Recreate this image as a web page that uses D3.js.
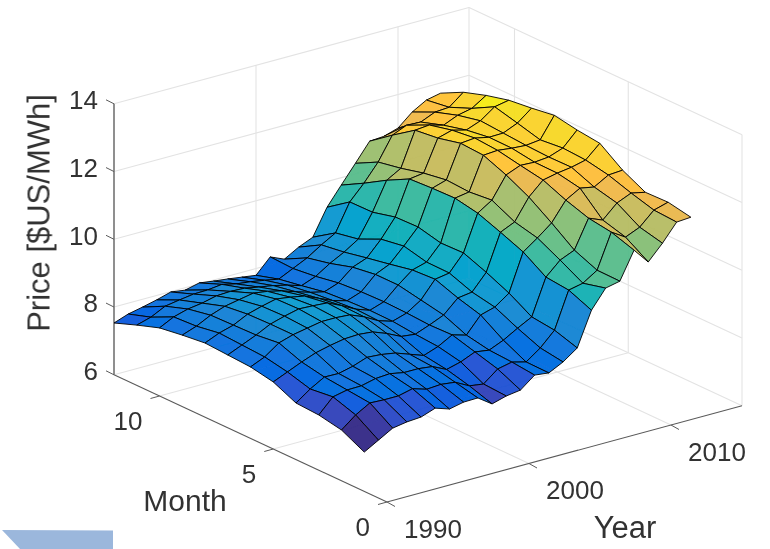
<!DOCTYPE html>
<html><head><meta charset="utf-8">
<script src="https://cdn.jsdelivr.net/npm/d3@7"></script>
<style>html,body{margin:0;padding:0;background:#fff}svg{display:block;font-family:"Liberation Sans",Arial,sans-serif}</style>
</head><body>
<svg id="c" width="770" height="549"></svg>
<script>
const months=[1,2,3,4,5,6,7,8,9,10,11,12];
const years=d3.range(1990,2014);
const monthTicks=[0,5,10];
const yearTicks=[1990,2000,2010];
const priceTicks=[6,8,10,12,14];
// price per year (rows) and month (columns 1..12)
const prices=[
[7.16,7.50,7.63,7.67,7.98,8.11,8.15,8.19,8.11,8.01,7.78,7.53],
[7.40,7.83,8.05,7.97,8.16,8.29,8.33,8.37,8.26,8.22,7.90,7.68],
[7.64,8.07,8.14,8.21,8.34,8.59,8.51,8.49,8.47,8.34,8.11,7.77],
[7.71,8.05,8.15,8.20,8.50,8.72,8.72,8.70,8.62,8.40,8.18,7.87],
[7.74,8.05,8.25,8.30,8.60,8.80,8.84,8.82,8.70,8.50,8.24,7.99],
[7.89,8.15,8.28,8.45,8.68,8.88,8.94,8.92,8.78,8.52,8.25,7.93],
[7.75,8.02,8.20,8.42,8.70,8.88,8.92,8.86,8.72,8.50,8.30,8.03],
[7.84,8.05,8.20,8.35,8.66,8.85,8.89,8.78,8.62,8.42,8.20,7.97],
[7.85,8.00,8.15,8.20,8.50,8.68,8.70,8.60,8.48,8.35,8.15,7.92],
[7.56,7.78,7.95,8.05,8.30,8.45,8.48,8.42,8.35,8.25,8.08,7.86],
[7.68,7.72,8.06,8.20,8.25,8.32,8.33,8.30,8.25,8.12,8.00,7.80],
[7.74,8.05,8.24,8.43,8.41,8.45,8.47,8.45,8.40,8.28,8.20,8.23],
[8.07,8.14,8.18,8.31,8.59,8.72,8.85,8.85,8.75,8.55,8.40,8.05],
[8.02,8.03,8.36,8.79,8.98,9.22,9.18,9.04,8.91,8.77,8.67,8.29],
[8.23,8.33,8.60,8.91,9.04,9.29,9.30,9.46,9.35,9.04,8.91,8.47],
[8.53,8.74,8.82,9.21,9.51,9.77,9.75,9.91,9.89,9.72,9.71,9.24],
[9.53,9.81,9.88,10.31,10.58,10.83,10.96,10.94,10.90,10.55,10.15,9.78],
[10.07,9.90,10.27,10.61,10.77,11.10,11.03,11.07,10.96,10.79,10.66,10.31],
[10.16,10.17,10.45,10.94,11.39,11.73,12.00,12.04,11.88,11.80,11.34,10.85],
[10.96,11.18,11.28,11.50,11.78,11.90,12.03,12.08,12.00,11.84,11.52,10.88],
[10.50,10.92,11.11,11.74,11.87,11.88,11.98,11.99,11.89,11.72,11.50,11.01],
[10.94,11.10,11.50,11.66,11.93,11.92,11.95,12.00,12.05,11.90,11.68,11.37],
[11.45,11.49,11.68,11.90,12.03,12.07,12.00,12.18,12.35,11.99,11.71,11.61],
[11.48,11.61,11.59,11.93,12.41,12.49,12.61,12.51,12.43,12.26,12.04,11.70]
];
const parula=[[.2081,.1663,.5292],[.2116,.1898,.5777],[.2123,.2138,.627],[.2081,.2386,.6771],[.1959,.2645,.7279],[.1707,.2919,.7792],[.1253,.3242,.8303],[.0591,.3598,.8683],[.0117,.3875,.882],[.006,.4086,.8828],[.0165,.4266,.8786],[.0329,.443,.872],[.0498,.4586,.8641],[.0629,.4737,.8554],[.0723,.4887,.8467],[.0779,.504,.8384],[.0793,.52,.8312],[.0749,.5375,.8263],[.0641,.557,.824],[.0488,.5772,.8228],[.0343,.5966,.8199],[.0265,.6137,.8135],[.0239,.6287,.8038],[.0231,.6418,.7913],[.0228,.6535,.7768],[.0267,.6642,.7607],[.0384,.6743,.7436],[.059,.6838,.7254],[.0843,.6928,.7062],[.1133,.7015,.6859],[.1453,.7098,.6646],[.1801,.7177,.6424],[.2178,.725,.6193],[.2586,.7317,.5954],[.3022,.7376,.5712],[.3482,.7424,.5473],[.3953,.7459,.5244],[.442,.7481,.5033],[.4871,.7491,.484],[.53,.7491,.4661],[.5709,.7485,.4494],[.6099,.7473,.4337],[.6473,.7456,.4188],[.6834,.7435,.4044],[.7184,.7411,.3905],[.7525,.7384,.3768],[.7858,.7356,.3633],[.8185,.7327,.3498],[.8507,.7299,.336],[.8824,.7274,.3217],[.9139,.7258,.3063],[.945,.7261,.2886],[.9739,.7314,.2666],[.9938,.7455,.2403],[.999,.7653,.2164],[.9955,.7861,.1967],[.988,.8066,.1794],[.9789,.8271,.1633],[.9697,.8481,.1475],[.9626,.8705,.1309],[.9589,.8949,.1132],[.9598,.9218,.0948],[.9661,.9514,.0755],[.9763,.9831,.0538]]
  .map(c=>d3.rgb(c[0]*255,c[1]*255,c[2]*255).formatHex());

const originX=387, originY=502;
const monthX=d3.scaleLinear([0,12],[0,-273]), monthY=d3.scaleLinear([0,12],[0,-127.2]);
const yearX=d3.scaleLinear([1990,2015],[0,355]), yearY=d3.scaleLinear([1990,2015],[0,-96.25]);
const priceY=d3.scaleLinear([6,14],[0,-271]);
const px=(m,y)=>originX+monthX(m)+yearX(y);
const py=(m,y,z)=>originY+monthY(m)+yearY(y)+priceY(z);
const color=d3.scaleQuantize().domain([7.16,12.55]).range(parula);

const svg=d3.select("#c");
const root=svg.append("g").attr("filter","url(#soft)");
svg.append("defs").append("filter").attr("id","soft").attr("x",0).attr("y",0).attr("width",1).attr("height",1)
  .append("feGaussianBlur").attr("stdDeviation",0.4);
const line=(g,a,b,stroke,w)=>g.append("line")
  .attr("x1",px(a[0],a[1])).attr("y1",py(a[0],a[1],a[2]))
  .attr("x2",px(b[0],b[1])).attr("y2",py(b[0],b[1],b[2]))
  .attr("stroke",stroke).attr("stroke-width",w);

// backdrop grid
const grid=root.append("g"), gc="#e3e3e3";
const mMax=12, yMin=1990, yMax=2015, zMin=6, zMax=14;
priceTicks.forEach(z=>{
  line(grid,[mMax,yMin,z],[mMax,yMax,z],gc,1.1);
  line(grid,[mMax,yMax,z],[0,yMax,z],gc,1.1);
});
yearTicks.forEach(y=>{
  line(grid,[mMax,y,zMin],[mMax,y,zMax],gc,1.1);
  if(y>yMin) line(grid,[0,y,zMin],[mMax,y,zMin],gc,1.1);
});
monthTicks.forEach(m=>{
  line(grid,[m,yMax,zMin],[m,yMax,zMax],gc,1.1);
  if(m>0) line(grid,[m,yMin,zMin],[m,yMax,zMin],gc,1.1);
});
line(grid,[mMax,yMax,zMin],[mMax,yMax,zMax],gc,1.1);

// axes
const ax=root.append("g"), ac="#5a5a5a";
line(ax,[0,yMin,zMin],[mMax,yMin,zMin],ac,1.1);
line(ax,[0,yMin,zMin],[0,yMax,zMin],ac,1.1);
line(ax,[mMax,yMin,zMin],[mMax,yMin,zMax],"#777",1.6);
const tick=(xx,yy,dx,dy)=>ax.append("line").attr("x1",xx).attr("y1",yy).attr("x2",xx+dx).attr("y2",yy+dy).attr("stroke",ac).attr("stroke-width",1);
const tickText=(xx,yy,t,anchor)=>root.append("text").attr("x",xx).attr("y",yy).attr("text-anchor",anchor).attr("dy","0.36em")
  .attr("font-size",26).attr("fill","#333").text(t);
priceTicks.forEach(z=>{const X=px(mMax,yMin),Y=py(mMax,yMin,z);tick(X,Y,-8,-4);tickText(X-16,Y-4,z,"end");});
monthTicks.forEach(m=>{const X=px(m,yMin),Y=py(m,yMin,zMin);tick(X,Y,-9,2.5);tickText(X-17,Y+24.5,m,"end");});
yearTicks.forEach(y=>{const X=px(0,y),Y=py(0,y,zMin);tick(X,Y,8,4.5);tickText(X+17,Y+26.5,y,"start");});

// surface, far cells first
const surf=root.append("g");
const path=d3.line();
const cells=[];
for(let k=years.length-2;k>=0;k--)for(let j=months.length-2;j>=0;j--)cells.push([k,j]);
surf.selectAll("path").data(cells).join("path")
  .attr("d",([k,j])=>path([[k,j],[k,j+1],[k+1,j+1],[k+1,j]].map(([a,b])=>[px(months[b],years[a]),py(months[b],years[a],prices[a][b])]))+"Z")
  .attr("fill",([k,j])=>color(prices[k][j]))
  .attr("fill-opacity",0.97)
  .attr("stroke","#000").attr("stroke-opacity",0.9).attr("stroke-width",1).attr("stroke-linejoin","round");

// axis titles
const title=(x,y,t,rot,fs)=>root.append("text").attr("transform",`translate(${x},${y})`+(rot?` rotate(${rot})`:"")).attr("text-anchor","middle")
  .attr("font-size",fs).attr("fill","#333").text(t);
title(185,511,"Month",0,30);
title(625,538,"Year",0,31);
title(49.5,213,"Price [$US/MWh]",-90,31);

// blue shape in the lower-left corner of the picture
root.append("path").attr("d","M2,530L113,530.5L113,549L20,549Z").attr("fill","#9bb7dc");
</script>
</body></html>
